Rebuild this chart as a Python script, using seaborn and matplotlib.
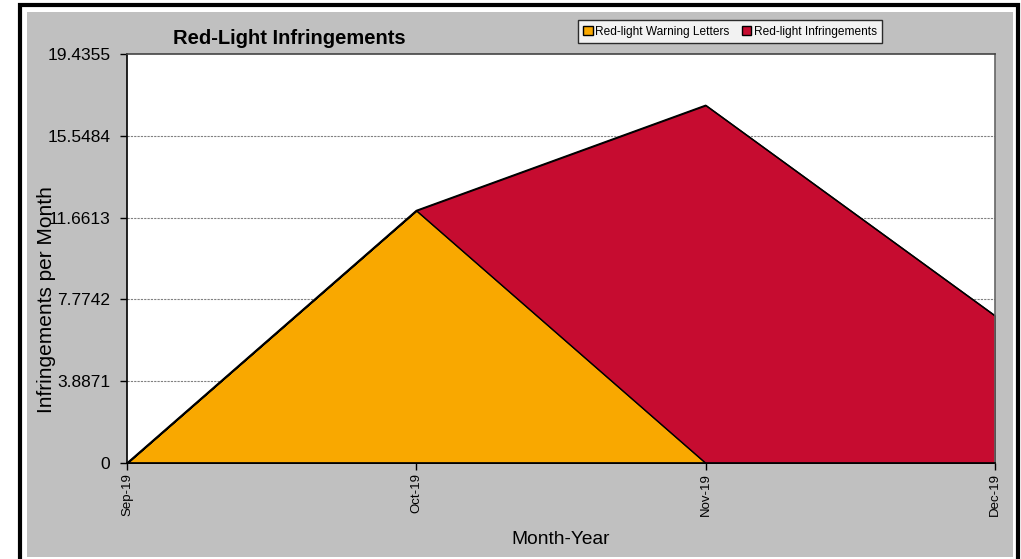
import matplotlib
matplotlib.use("Agg")
import matplotlib.pyplot as plt
import seaborn as sns
import numpy as np
import pandas as pd
from matplotlib.patches import Rectangle, Patch

months = ["Sep-19", "Oct-19", "Nov-19", "Dec-19"]
warning_letters = [0, 12, 0, 0]
infringements = [0, 0, 17, 7]
y_ticks = [0, 3.8871, 7.7742, 11.6613, 15.5484, 19.4355]
y_tick_labels = ["0", "3.8871", "7.7742", "11.6613", "15.5484", "19.4355"]
series_names = ["Red-light Warning Letters", "Red-light Infringements"]
colors = ["#F9A800", "#C60C30"]

sns.set_theme(style="white", rc={"text.color": "black", "axes.labelcolor": "black",
                                 "xtick.color": "black", "ytick.color": "black"})
plt.rcParams['font.family'] = ['Liberation Sans', 'DejaVu Sans']

fig = plt.figure(figsize=(10.21, 5.59), dpi=100)
fig.patch.set_facecolor("white")
# grey chart area and black frame
fig.patches.append(Rectangle((27/1021, 2/559), 986/1021, 545/559, transform=fig.transFigure,
                             facecolor="#C0C0C0", edgecolor="none", zorder=-2))
fig.patches.append(Rectangle((20/1021, -5/559), 998/1021, 559/559, transform=fig.transFigure,
                             facecolor="none", edgecolor="black", linewidth=3, zorder=-1))

ax = fig.add_axes([127/1021, 1 - 463/559, (995-127)/1021, (463-54)/559])
ax.set_zorder(5)
ax.set_facecolor("white")

df = pd.DataFrame({"Month": months, series_names[0]: warning_letters, series_names[1]: infringements})
x = np.arange(len(months))
ax.stackplot(x, df[series_names[0]], df[series_names[1]], colors=colors,
             edgecolor="black", linewidth=1.0, zorder=3)
top = np.array(warning_letters) + np.array(infringements)
sns.lineplot(x=x, y=top, ax=ax, color="black", linewidth=1.0, zorder=4)

ax.set_xlim(0, 3)
ax.set_ylim(0, 19.4355)
ax.set_yticks(y_ticks)
ax.set_yticklabels(y_tick_labels, fontsize=12.5)
ax.set_xticks(x)
ax.set_xticklabels(months, rotation=90, fontsize=9.5)
ax.tick_params(axis="y", direction="out", length=5, width=1, color="black", pad=7, left=True)
ax.tick_params(axis="x", direction="out", length=5, width=1, color="black", pad=2, bottom=True)
for yt in y_ticks[1:-1]:
    ax.axhline(yt, color="#808080", linestyle=(0, (2, 1)), linewidth=0.8, zorder=1)

ax.spines["left"].set_color("black")
ax.spines["bottom"].set_color("black")
ax.spines["top"].set_color("#444444")
ax.spines["right"].set_color("#666666")
for s in ax.spines.values():
    s.set_linewidth(1.2)
    s.set_visible(True)
    s.set_zorder(5)

ax.set_xlabel("Month-Year", fontsize=13.8, labelpad=11)
ax.set_ylabel("Infringements per Month", fontsize=15)
ax.yaxis.set_label_coords((56 - 127) / 868, (463 - 300) / 409)

fig.text(289/1021, 1 - 38/559, "Red-Light Infringements", fontsize=14.5, fontweight="bold",
         ha="center", va="center", color="black")

handles = [Patch(facecolor=c, edgecolor="black", linewidth=1) for c in colors]
leg = fig.legend(handles, series_names, loc="center", bbox_to_anchor=(730/1021, 1 - 31.5/559),
                 ncol=2, fontsize=8.6, frameon=True, fancybox=False, edgecolor="black",
                 handlelength=0.8, handleheight=0.8, handletextpad=0.2, columnspacing=1.0,
                 borderpad=0.45, borderaxespad=0)
leg.get_frame().set_linewidth(1)
leg.get_frame().set_facecolor("white")

fig.savefig("out.png", dpi=100)
